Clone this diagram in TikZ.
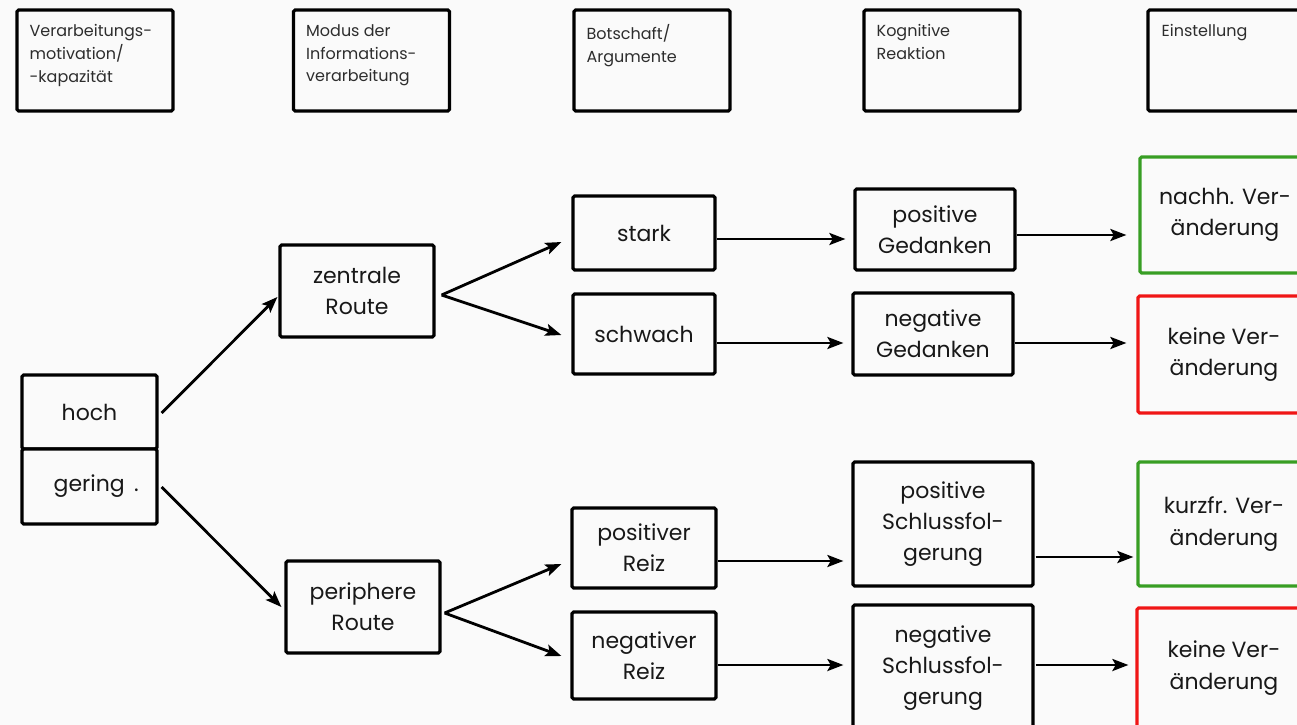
\documentclass[tikz,border=0pt]{standalone}
\usepackage{fontspec}
\setmainfont{Poppins}
\usetikzlibrary{arrows.meta,calc}
\definecolor{bg}{RGB}{250,250,250}
\definecolor{ink}{RGB}{24,24,24}
\definecolor{hdink}{RGB}{45,45,45}
\definecolor{okgreen}{RGB}{56,158,36}
\definecolor{nored}{RGB}{240,22,22}
\begin{document}
\begin{tikzpicture}[x=0.75pt,y=-0.75pt,
  sz/.style 2 args={minimum width=#1*0.75pt, minimum height=#2*0.75pt},
  box/.style={draw=black, line width=2.4pt, rounded corners=1.2pt, fill=bg,
    inner sep=0pt, align=center, text=ink, font=\fontsize{16.5}{23.5}\selectfont},
  hdrbox/.style={box, sz={156}{101}},
  hdrtext/.style={anchor=north west, inner sep=0pt, align=left, text=hdink,
    font=\fontsize{12}{17}\selectfont},
  goodbox/.style={box, draw=okgreen},
  badbox/.style={box, draw=nored},
  conn/.style={line width=2.1pt, -{Stealth[length=12pt,width=9pt,inset=2.5pt]}}
]
\fill[bg] (0,0) rectangle (1297,725);
\clip (0,0) rectangle (1297,725);

% column headers
\node[hdrbox] (h1) at (95,60.5) {};
\node[hdrbox] (h2) at (371.5,60.5) {};
\node[hdrbox] (h3) at (652,60.5) {};
\node[hdrbox] (h4) at (942,60.5) {};
\node[hdrbox, sz={165}{101}] (h5) at (1230.5,60.5) {};
\node[hdrtext] (t1) at ($(h1.north west)+(14,16)$) {Verarbeitungs-\\motivation/\\-kapazität};
\node[hdrtext] (t2) at ($(h2.north west)+(14,16)$) {Modus der\\Informations-\\verarbeitung};
\node[hdrtext] (t3) at ($(h3.north west)+(14,16)$) {Botschaft/\\Argumente};
\node[hdrtext] (t4) at ($(h4.north west)+(14,16)$) {Kognitive\\Reaktion};
\node[hdrtext] (t5) at ($(h5.north west)+(15,16)$) {Einstellung};

% processing level
\node[box, sz={135}{74}] (hoch) at (89.5,412) {hoch};
\node[box, sz={135}{75}] (gering) at (89.5,486.5) {\hspace*{10pt}gering\hspace{7pt}.};

% routes
\node[box, sz={154}{92}] (zen) at (357,291) {zentrale\\Route};
\node[box, sz={154}{92}] (peri) at (363,607) {periphere\\Route};

% messages
\node[box, sz={142}{74}] (stark) at (644,233) {stark};
\node[box, sz={142}{80}] (schwach) at (644,334) {schwach};
\node[box, sz={144}{80}] (posR) at (644,548) {positiver\\Reiz};
\node[box, sz={144}{87}] (negR) at (644,655.5) {negativer\\Reiz};

% cognitive reactions
\node[box, sz={160}{81}] (pg) at (935,229.5) {positive\\Gedanken};
\node[box, sz={160}{82}] (ng) at (933,334) {negative\\Gedanken};
\node[box, sz={180}{124}] (ps) at (943,524) {positive\\Schlussfol-\\gerung};
\node[box, sz={180}{126}] (ns) at (943,668) {negative\\Schlussfol-\\gerung};

% attitude change
\node[goodbox, sz={170}{116}] (g1) at (1225,215) {nachh. Ver-\\änderung};
\node[badbox, sz={172}{117}] (r1) at (1224,354.5) {keine Ver-\\änderung};
\node[goodbox, sz={172}{124}] (g2) at (1224,524) {kurzfr. Ver-\\änderung};
\node[badbox, sz={174}{120}] (r2) at (1224,668) {keine Ver-\\änderung};

% connectors
\draw[conn] ($(hoch.east)+(3,1)$) -- ($(zen.west)+(-1,6)$);
\draw[conn] ($(gering.east)+(3,0.5)$) -- ($(peri.west)+(-3,0)$);
\draw[conn] ($(zen.east)+(6,4)$) -- ($(stark.west)+(-10,9)$);
\draw[conn] ($(zen.east)+(6,4)$) -- ($(schwach.west)+(-10,1)$);
\draw[conn] ($(peri.east)+(3,6)$) -- ($(posR.west)+(-9,16)$);
\draw[conn] ($(peri.east)+(3,6)$) -- ($(negR.west)+(-9,0.5)$);
\draw[conn] ($(stark.east)+(0,6)$) -- ($(pg.west)+(-8,9.5)$);
\draw[conn] ($(schwach.east)+(0,9)$) -- ($(ng.west)+(-8,9)$);
\draw[conn] ($(posR.east)+(0,13)$) -- ($(ps.west)+(-8,37)$);
\draw[conn] ($(negR.east)+(0,9.5)$) -- ($(ns.west)+(-8,-3)$);
\draw[conn] ($(pg.east)+(0,5.5)$) -- ($(g1.west)+(-12,20)$);
\draw[conn] ($(ng.east)+(0,9)$) -- ($(r1.west)+(-10,-11.5)$);
\draw[conn] ($(ps.east)+(1,33)$) -- ($(g2.west)+(-3,33)$);
\draw[conn] ($(ns.east)+(1,-3)$) -- ($(r2.west)+(-7,-3)$);
\end{tikzpicture}
\end{document}
